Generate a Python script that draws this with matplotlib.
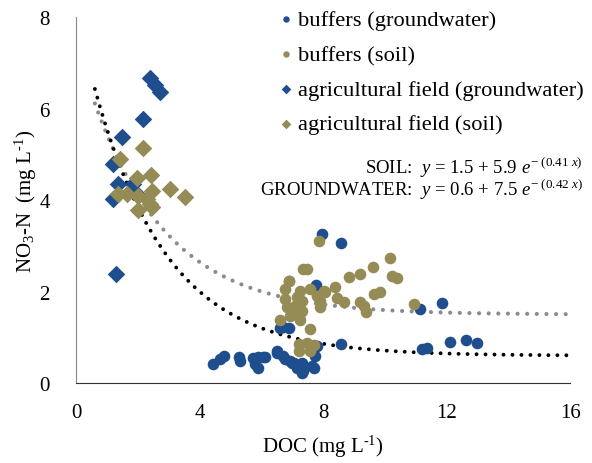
import numpy as np
import matplotlib
matplotlib.use('agg')
import matplotlib.pyplot as plt

plt.rcParams['font.family'] = ['Liberation Serif', 'DejaVu Serif']
plt.rcParams['mathtext.fontset'] = 'custom'
plt.rcParams['mathtext.rm'] = 'Liberation Serif'
plt.rcParams['mathtext.it'] = 'Liberation Serif:italic'

# buffers (groundwater)
buf_gw_x = [4.44, 4.66, 4.77, 5.31, 5.28, 5.74, 5.80, 5.90, 6.06, 5.90, 6.50, 6.50, 6.71, 6.77,
            6.93, 6.99, 7.04, 7.15, 7.20, 7.31, 7.36, 7.31, 7.64, 7.69, 7.74, 7.80, 8.56, 6.61,
            6.71, 6.88, 7.78, 7.96, 8.56, 11.15, 11.86, 11.21, 11.37, 12.10, 12.64, 12.99, 6.12]
buf_gw_y = [0.42, 0.53, 0.60, 0.49, 0.58, 0.56, 0.42, 0.58, 0.58, 0.34, 0.67, 0.71, 0.60, 0.53,
            0.49, 0.45, 0.45, 0.34, 0.38, 0.23, 0.27, 0.45, 0.38, 0.34, 0.60, 0.82, 0.86, 1.20,
            1.22, 1.20, 2.15, 3.27, 3.06, 1.62, 1.75, 0.75, 0.76, 0.91, 0.95, 0.88, 0.57]

# buffers (soil)
buf_soil_x = [7.85, 7.36, 7.47, 6.88, 6.77, 7.26, 7.58, 8.01, 8.39, 8.83, 9.20, 9.62, 10.16, 10.23,
              10.40, 9.64, 9.85, 8.45, 8.66, 9.20, 9.31, 9.40, 10.94, 6.77, 7.15, 7.31, 7.80, 7.91,
              6.83, 6.99, 7.15, 7.26, 6.93, 7.26, 7.91, 6.61, 7.58, 7.20, 7.47, 7.69, 7.20, 7.58,
              7.09, 7.31, 7.20, 6.90, 8.05]
buf_soil_y = [3.10, 2.50, 2.50, 2.24, 2.06, 2.02, 2.06, 2.02, 2.10, 2.32, 2.39, 2.54, 2.73, 2.34,
              2.29, 1.95, 2.00, 1.86, 1.78, 1.78, 1.68, 1.56, 1.73, 1.84, 1.88, 1.80, 1.91, 1.80,
              1.66, 1.58, 1.69, 1.62, 1.47, 1.37, 1.66, 1.37, 1.18, 0.86, 0.88, 0.83, 0.71, 0.71,
              1.69, 1.58, 1.44, 2.24, 2.00]

# agricultural field (groundwater)
ag_gw_x = [2.39, 2.55, 2.71, 2.15, 1.47, 1.20, 1.36, 1.20, 1.84, 1.95, 1.30]
ag_gw_y = [6.68, 6.52, 6.37, 5.77, 5.39, 4.80, 4.36, 4.03, 4.36, 4.14, 2.39]

# agricultural field (soil)
ag_soil_x = [2.15, 1.41, 1.95, 2.42, 3.04, 3.52, 2.44, 1.36, 1.63, 2.00, 2.28, 2.39, 2.00, 2.44]
ag_soil_y = [5.13, 4.91, 4.49, 4.55, 4.25, 4.07, 4.20, 4.14, 4.14, 4.10, 4.03, 3.92, 3.78, 3.85]

# fitted curves y = a + b*exp(-c*x), coefficients as printed on the chart
soil_fit = [1.5, 5.9, 0.41]
gw_fit = [0.6, 7.5, 0.42]

blue = '#1F4E8F'
khaki = '#958B55'

fig = plt.figure(figsize=(5.92, 4.64), dpi=100)
ax = fig.add_axes([0.129, 0.172, 0.834, 0.789])

xf = np.linspace(0.6, 16, 300)
dots = (0, (0.01, 2.3))
ax.plot(xf, soil_fit[0] + soil_fit[1] * np.exp(-soil_fit[2] * xf), color='#8C8C8C',
        lw=3.0, ls=dots, dash_capstyle='round', zorder=1)
ax.plot(xf, gw_fit[0] + gw_fit[1] * np.exp(-gw_fit[2] * xf), color='black',
        lw=2.8, ls=dots, dash_capstyle='round', zorder=1)

ax.scatter(buf_gw_x, buf_gw_y, s=70, marker='o', color=blue, lw=0, label='buffers (groundwater)', zorder=2)
ax.scatter(buf_soil_x, buf_soil_y, s=70, marker='o', color=khaki, lw=0, label='buffers (soil)', zorder=3)
ax.scatter(ag_gw_x, ag_gw_y, s=80, marker='D', color=blue, lw=0, label='agricultural field (groundwater)', zorder=4)
ax.scatter(ag_soil_x, ag_soil_y, s=80, marker='D', color=khaki, lw=0, label='agricultural field (soil)', zorder=5)

ax.set_xlim(0, 16)
ax.set_ylim(0, 8)
ax.set_xticks([0, 4, 8, 12, 16])
ax.set_yticks([0, 2, 4, 6, 8])
ax.tick_params(length=0, labelsize=15)
ax.tick_params(axis='y', pad=19)
ax.tick_params(axis='x', pad=14)
for s in ['top', 'right']:
    ax.spines[s].set_visible(False)
ax.spines['left'].set_color('#888888')
ax.spines['bottom'].set_color('#333333')

ax.set_xlabel(r'DOC (mg L$^{\text{-1}}$)', fontsize=15, labelpad=8)
ax.set_ylabel(r'NO$_{\mathregular{3}}$-N  (mg L$^{\text{-1}}$)', fontsize=15, labelpad=0)

ax.legend(loc='upper right', bbox_to_anchor=(1.045, 1.045), frameon=False, fontsize=16.2,
          markerscale=0.55, handletextpad=0.0, handlelength=1.0, labelspacing=0.62, borderaxespad=0)

ax.text(1.025, 0.592, r'SOIL:  $y$ = 1.5 + 5.9 $e^{-\ \mathit{(0.41\ x)}}$', transform=ax.transAxes,
        ha='right', va='center', fontsize=13.5)
ax.text(1.025, 0.531, r'GROUNDWATER:  $y$ = 0.6 + 7.5 $e^{-\ \mathit{(0.42\ x)}}$', transform=ax.transAxes,
        ha='right', va='center', fontsize=13.5)

fig.savefig('out.png', dpi=100)
